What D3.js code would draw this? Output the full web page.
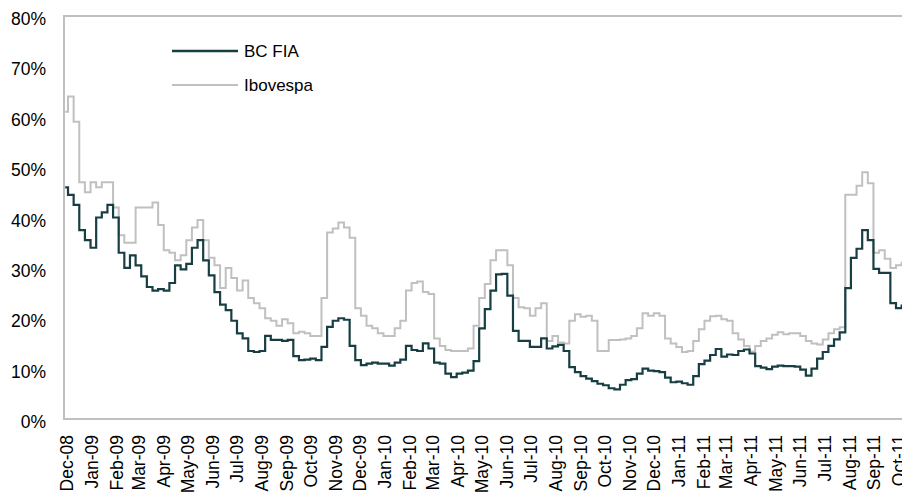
<!DOCTYPE html>
<html>
<head>
<meta charset="utf-8">
<script src="https://cdn.jsdelivr.net/npm/d3@7"></script>
<style>
  body { margin: 0; background: #fff; }
  text { font-family: "Liberation Sans", Arial, sans-serif; fill: #000; }
</style>
</head>
<body>
<svg id="chart"></svg>
<script>
// weekly readings, first week = 30 Nov 2008
var startDate = new Date(2008, 10, 30);

var bcFia = [46, 44.5, 42.5, 37.5, 35.5, 34, 40, 41, 42.5, 40,
  33, 30, 32.5, 30.5, 28.3, 26.2, 25.5, 25.8, 25.5, 27,
  30.5, 29.7, 30.8, 34, 35.5, 31.5, 28.5, 25.2, 22.7, 21.6,
  19.5, 17, 16, 13.5, 13.3, 13.5, 16.5, 15.7, 15.7, 15.5,
  15.7, 12.5, 11.7, 11.8, 12, 11.7, 14.3, 18.3, 19.5, 20,
  19.7, 14.5, 11.7, 10.7, 11, 11.2, 11, 11, 10.6, 11.2,
  11.8, 14.5, 13.7, 13.5, 15, 14, 11.2, 11, 9, 8.3,
  9, 9.2, 9.6, 11.5, 18, 21.8, 25.5, 28.7, 28.8, 24.5,
  17.5, 15.5, 15.5, 14.3, 14.3, 16, 14, 14.4, 14.7, 13.5,
  10.3, 9.3, 8.5, 8, 7.5, 7, 6.7, 6.1, 5.9, 6.8,
  7.7, 7.9, 9, 10, 9.6, 9.5, 9.3, 8.2, 7.3, 7.4,
  7.1, 6.8, 8.5, 10.9, 11.6, 12.7, 13.9, 12.4, 12.8, 12.7,
  13.5, 13.8, 13, 10.5, 10.2, 9.9, 10.4, 10.6, 10.5, 10.5,
  10.4, 9.8, 8.6, 10, 12, 13.3, 14.5, 15.8, 17.2, 26,
  32, 33.8, 37.5, 35.5, 29.8, 29, 29, 23, 22, 22.5];

var ibovespa = [61, 64, 59, 47, 45, 47, 46, 47, 47, 42,
  36.5, 35, 35, 42, 42, 42, 43, 38.5, 33.5, 33,
  31.5, 32.5, 35.5, 38, 39.5, 35.5, 32, 30.5, 26, 30,
  28, 25.5, 27.5, 24, 23, 22, 20, 19.5, 18.5, 19.8,
  19, 17, 17.3, 17, 16.5, 16.5, 24, 37, 37.8, 39,
  38, 36, 22, 20.5, 18.5, 18, 17, 16.5, 16.5, 18,
  19.5, 25.5, 27, 27.3, 25.2, 24.8, 16, 14.5, 13.7, 13.5,
  13.5, 13.5, 14, 18.5, 24, 26.8, 31.5, 33.5, 33.5, 30.5,
  24, 22.2, 22, 20.5, 22, 23, 15.5, 16.5, 15.2, 15,
  19.5, 20.8, 20.3, 20.5, 19.5, 13.5, 13.5, 15.7, 15.7, 15.8,
  16, 16.5, 18, 21, 20.5, 21, 20.5, 16, 15, 14.3,
  13.3, 13.5, 15.5, 17.8, 19.5, 20.4, 20.5, 19.8, 19.5, 17,
  15.8, 14.5, 13.4, 14.5, 15.5, 16, 16.7, 17.2, 16.8, 17,
  17, 16.5, 15.5, 15, 14.8, 15.8, 17, 17.8, 18.2, 44.5,
  44.5, 46.3, 49, 46.8, 33, 33.5, 31.8, 30, 30.5, 31];

var yTicks = [0, 10, 20, 30, 40, 50, 60, 70, 80];
var seriesNames = ["BC FIA", "Ibovespa"];
var seriesColors = ["#173e42", "#c0c0c0"];

var width = 902, height = 496,
    plotLeft = 64, plotTop = 16, plotBottom = 419;

var svg = d3.select("#chart").attr("width", width).attr("height", height);

var weeks = bcFia.map(function(d, i) { return d3.timeDay.offset(startDate, 7 * i); });

var x = d3.scaleTime()
    .domain([new Date(2008, 11, 1), new Date(2011, 9, 1)])
    .range([66, 898]);
var y = d3.scaleLinear().domain([0, 80]).range([plotBottom, plotTop]);

svg.append("clipPath").attr("id", "clip")
  .append("rect").attr("x", plotLeft).attr("y", 0).attr("width", width - plotLeft).attr("height", plotBottom);

// frame
svg.append("path")
    .attr("d", "M" + width + "," + plotTop + "H" + plotLeft + "V" + plotBottom + "H" + width)
    .attr("fill", "none")
    .attr("stroke", "#c0c0c0")
    .attr("stroke-width", 2);

// y axis
var yAxis = svg.append("g")
    .attr("transform", "translate(" + plotLeft + ",3)")
    .call(d3.axisLeft(y).tickValues(yTicks).tickSize(0).tickPadding(18)
      .tickFormat(function(d) { return d + "%"; }));
yAxis.select(".domain").remove();
yAxis.attr("font-family", null);
yAxis.selectAll("text").style("font-size", "17.5px");

// x axis
var months = d3.timeMonth.range(new Date(2008, 11, 1), new Date(2011, 9, 2));
var xAxis = svg.append("g")
    .attr("transform", "translate(0," + plotBottom + ")")
    .call(d3.axisBottom(x).tickValues(months).tickSize(0).tickFormat(d3.timeFormat("%b-%y")));
xAxis.select(".domain").remove();
xAxis.attr("font-family", null);
xAxis.selectAll("text")
    .style("font-size", "17.5px")
    .attr("transform", "rotate(-90)")
    .attr("text-anchor", "end")
    .attr("x", -16)
    .attr("y", 0)
    .attr("dy", "0.35em");

// step curve to get the blocky look of the daily series
var line = d3.line()
    .curve(d3.curveStep)
    .x(function(d, i) { return x(weeks[i]); })
    .y(function(d) { return y(d); });

// gray first so the dark line sits on top
svg.append("path")
    .datum(ibovespa)
    .attr("clip-path", "url(#clip)")
    .attr("fill", "none")
    .attr("stroke", seriesColors[1])
    .attr("stroke-width", 2)
    .attr("d", line);

svg.append("path")
    .datum(bcFia)
    .attr("clip-path", "url(#clip)")
    .attr("fill", "none")
    .attr("stroke", seriesColors[0])
    .attr("stroke-width", 2.2)
    .attr("d", line);

// legend
var legend = svg.selectAll(".legend")
    .data(seriesNames)
  .enter().append("g")
    .attr("class", "legend")
    .attr("transform", function(d, i) { return "translate(172," + (51 + i * 34) + ")"; });

legend.append("line")
    .attr("x1", 0).attr("x2", 66)
    .attr("stroke", function(d, i) { return seriesColors[i]; })
    .attr("stroke-width", function(d, i) { return i ? 2 : 2.5; });

legend.append("text")
    .attr("x", 72)
    .attr("dy", "0.35em")
    .style("font-size", "17px")
    .text(function(d) { return d; });
</script>
</body>
</html>
